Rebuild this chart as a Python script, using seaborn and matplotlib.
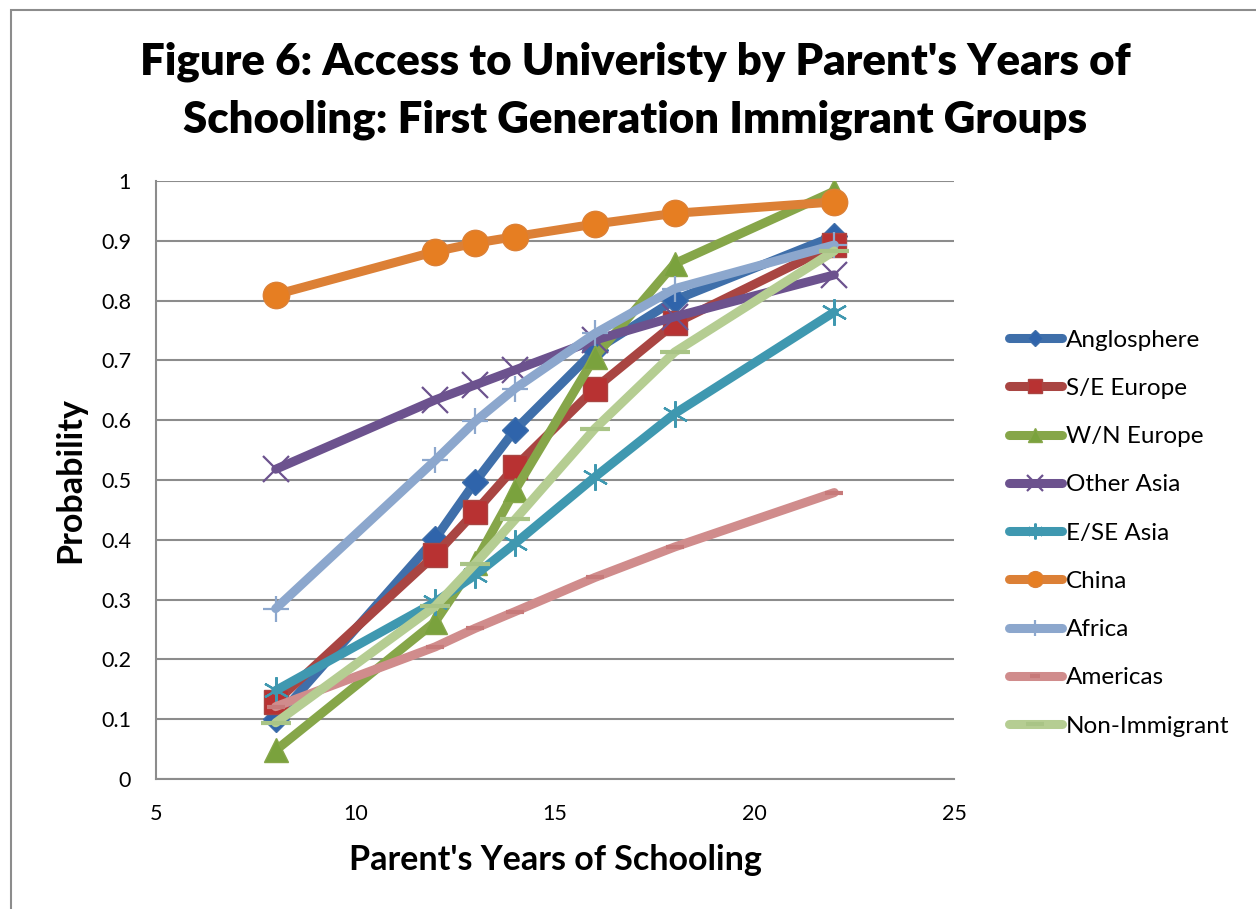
import matplotlib
matplotlib.use("Agg")
import matplotlib.pyplot as plt
import matplotlib.patches as mpatches
import pandas as pd
import seaborn as sns

# Parent's years of schooling (x positions shared by every group)
years = [8, 12, 13, 14, 16, 18, 22]

groups = ["Anglosphere", "S/E Europe", "W/N Europe", "Other Asia", "E/SE Asia",
          "China", "Africa", "Americas", "Non-Immigrant"]

anglosphere = [0.100, 0.402, 0.497, 0.584, 0.717, 0.801, 0.908]
se_europe = [0.129, 0.375, 0.447, 0.522, 0.653, 0.762, 0.893]
wn_europe = [0.048, 0.263, 0.362, 0.483, 0.706, 0.862, 0.983]
other_asia = [0.518, 0.634, 0.659, 0.684, 0.734, 0.773, 0.843]
ese_asia = [0.148, 0.296, 0.341, 0.394, 0.505, 0.611, 0.781]
china = [0.810, 0.882, 0.896, 0.907, 0.928, 0.946, 0.965]
africa = [0.285, 0.533, 0.598, 0.653, 0.745, 0.820, 0.893]
americas = [0.121, 0.221, 0.252, 0.280, 0.337, 0.388, 0.479]
non_immigrant = [0.094, 0.289, 0.360, 0.434, 0.586, 0.714, 0.883]

series = [anglosphere, se_europe, wn_europe, other_asia, ese_asia,
          china, africa, americas, non_immigrant]

line_colors = ["#3f6faa", "#a94542", "#86a649", "#6c528e", "#3f98b0",
               "#dc8036", "#8ca7cd", "#d08c8c", "#b5cd92"]
marker_colors = ["#2f64ab", "#b83232", "#7aa23d", "#6c528e", "#3f98b0",
                 "#e67e22", "#8ca7cd", "#c77a7a", "#a9c486"]
markers = ["D", "s", "^", "x", (6, 2, 0), "o", "+", "_", "_"]
marker_sizes = [13, 17, 17, 19, 19, 19, 19, 13, 22]
marker_edge = [1.0, 1.0, 1.0, 1.6, 1.6, 1.0, 1.6, 3.0, 3.0]

df = pd.DataFrame({
    "years": years * len(groups),
    "prob": [v for s in series for v in s],
    "group": [g for g in groups for _ in years],
})

sns.set_theme(style="white")
plt.rcParams["font.family"] = ["Lato", "DejaVu Sans"]
plt.rcParams["text.color"] = "black"
plt.rcParams["axes.labelcolor"] = "black"

fig = plt.figure(figsize=(12.56, 9.09), dpi=100)
ax = fig.add_axes([156 / 1256, 1 - 779 / 909, (954 - 156) / 1256, (779 - 181) / 909])

for i, g in enumerate(groups):
    sub = df[df["group"] == g]
    filled = markers[i] not in ("x", "+", "_", (6, 2, 0))
    sns.lineplot(data=sub, x="years", y="prob", ax=ax, color=line_colors[i],
                 linewidth=6.5, marker=markers[i], markersize=marker_sizes[i],
                 markerfacecolor=marker_colors[i],
                 markeredgecolor=marker_colors[i] if not filled else line_colors[i],
                 markeredgewidth=marker_edge[i], zorder=3 + i,
                 solid_capstyle="round", label=g)

ax.set_xlim(5, 25)
ax.set_ylim(0, 1)
ax.set_xticks([5, 10, 15, 20, 25])
ax.set_yticks([i / 10 for i in range(11)])
ax.set_yticklabels(["0", "0.1", "0.2", "0.3", "0.4", "0.5", "0.6", "0.7", "0.8", "0.9", "1"])
ax.tick_params(axis="both", length=0, labelsize=15.5, colors="black")
ax.tick_params(axis="y", pad=18)
ax.tick_params(axis="x", pad=18)
ax.grid(axis="y", color="#8c8c8c", linewidth=1.5)
ax.grid(axis="x", visible=False)
ax.set_axisbelow(True)
for side in ("top", "right"):
    ax.spines[side].set_visible(False)
for side in ("left", "bottom"):
    ax.spines[side].set_color("#8c8c8c")
    ax.spines[side].set_linewidth(1.5)

ax.set_xlabel("")
ax.set_ylabel("")
fig.text(555 / 1256, 1 - 860 / 909, "Parent's Years of Schooling", ha="center",
         va="center", fontsize=24.5, fontweight="bold", color="black")
fig.text(70 / 1256, 1 - 480 / 909, "Probability", ha="center", va="center",
         rotation=90, fontsize=24.5, fontweight="bold", color="black")
fig.text(635 / 1256, 1 - 62 / 909, "Figure 6: Access to Univeristy by Parent's Years of",
         ha="center", va="center", fontsize=31.5, fontweight="heavy", color="black")
fig.text(635 / 1256, 1 - 120 / 909, "Schooling: First Generation Immigrant Groups",
         ha="center", va="center", fontsize=31.5, fontweight="heavy", color="black")

handles, labels = ax.get_legend_handles_labels()
leg = ax.legend(handles, labels, loc="upper left",
                bbox_to_anchor=(999 / 1256, 1 - 320 / 909),
                bbox_transform=fig.transFigure, frameon=False, fontsize=17.5,
                handlelength=2.2, handletextpad=0.15, labelspacing=1.12,
                markerscale=0.6, borderaxespad=0)
for t in leg.get_texts():
    t.set_color("black")

# outer chart border
fig.patches.append(mpatches.Rectangle((11 / 1256, -0.01), 1.1, 1 - 10 / 909 + 0.01,
                                      transform=fig.transFigure, fill=False,
                                      edgecolor="#8c8c8c", linewidth=1.5))

fig.savefig("out.png", dpi=100)
